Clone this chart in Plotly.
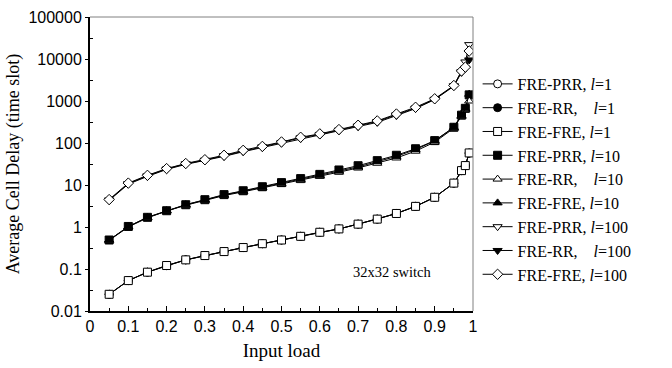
import plotly.graph_objects as go

load = [0.05, 0.1, 0.15, 0.2, 0.25, 0.3, 0.35, 0.4, 0.45, 0.5, 0.55, 0.6,
        0.65, 0.7, 0.75, 0.8, 0.85, 0.9, 0.95, 0.97, 0.98, 0.99]

prr_l1 = [0.025, 0.053, 0.084, 0.12, 0.165, 0.21, 0.26, 0.325, 0.40, 0.49, 0.60, 0.75,
          0.90, 1.17, 1.54, 2.1, 3.1, 5.1, 11.0, 22, 29, 57]
rr_l1 = [0.025, 0.053, 0.084, 0.121, 0.165, 0.209, 0.26, 0.324, 0.40, 0.49, 0.60, 0.75,
         0.90, 1.17, 1.54, 2.1, 3.1, 5.1, 11.1, 22, 29, 58]
fre_l1 = [0.025, 0.053, 0.084, 0.121, 0.165, 0.209, 0.26, 0.324, 0.40, 0.49, 0.60, 0.75,
          0.90, 1.17, 1.54, 2.1, 3.1, 5.1, 11.1, 22, 29, 58]

prr_l10 = [0.49, 1.03, 1.7, 2.44, 3.39, 4.47, 5.9, 7.3, 9.1, 11.4, 14.2, 17.9,
           22.8, 28.8, 38, 51, 73, 114, 237, 460, 670, 1400]
rr_l10 = [0.48, 1.0, 1.65, 2.4, 3.3, 4.3, 5.6, 6.9, 8.5, 10.5, 13.0, 16.2,
          20.2, 25.5, 33, 44, 64, 105, 225, 430, 620, 1000]
fre_l10 = [0.49, 1.02, 1.7, 2.45, 3.4, 4.4, 5.8, 7.1, 8.8, 11.0, 13.7, 17.0,
           21.5, 27, 36, 48, 70, 112, 235, 450, 650, 1450]

prr_l100 = [4.4, 10.8, 16.5, 24, 32, 39, 50, 65, 81, 103, 133, 160,
            203, 255, 325, 470, 680, 1100, 2300, 5000, 8500, 22000]
rr_l100 = [4.3, 10.5, 16, 23.5, 31, 38, 48, 62, 78, 99, 128, 155,
           195, 245, 310, 450, 660, 1080, 2250, 4800, 6000, 9500]
fre_l100 = [4.5, 11.1, 17, 24.6, 32.5, 40, 51, 67, 83, 106, 137, 165,
            209, 265, 336, 490, 710, 1130, 2340, 5200, 6400, 15500]

NB = "\u00a0"
series = [
    ("FRE-PRR, <i>l</i>=1", prr_l1, "circle", "white"),
    ("FRE-RR," + NB * 4 + "<i>l</i>=1", rr_l1, "circle", "black"),
    ("FRE-FRE, <i>l</i>=1", fre_l1, "square", "white"),
    ("FRE-PRR, <i>l</i>=10", prr_l10, "square", "black"),
    ("FRE-RR," + NB * 4 + "<i>l</i>=10", rr_l10, "triangle-up", "white"),
    ("FRE-FRE, <i>l</i>=10", fre_l10, "triangle-up", "black"),
    ("FRE-PRR, <i>l</i>=100", prr_l100, "triangle-down", "white"),
    ("FRE-RR," + NB * 4 + "<i>l</i>=100", rr_l100, "triangle-down", "black"),
    ("FRE-FRE, <i>l</i>=100", fre_l100, "diamond", "white"),
]

SANS = "Liberation Sans, Arial"
SERIF = "Liberation Serif, Times New Roman, serif"

fig = go.Figure()
for i, (name, ys, sym, fill) in enumerate(series):
    fig.add_trace(go.Scatter(
        x=load, y=ys, name=name, mode="lines+markers",
        line=dict(color="black", width=1),
        marker=dict(symbol=sym, size=8, color=fill, line=dict(color="black", width=1)),
    ))

fig.update_layout(
    width=672, height=368,
    margin=dict(l=90, r=199, t=17, b=57, autoexpand=False),
    paper_bgcolor="white", plot_bgcolor="white",
    showlegend=True,
    legend=dict(x=1.012, y=0.83, xanchor="left", yanchor="top",
                font=dict(family=SERIF, size=16, color="black"),
                itemwidth=30, bgcolor="rgba(0,0,0,0)"),
    xaxis=dict(range=[0, 1], dtick=0.1, tick0=0, showgrid=False, zeroline=False,
               showline=True, linecolor="black", linewidth=2,
               ticks="inside", ticklen=5, tickcolor="black", tickwidth=1,
               minor=dict(dtick=0.05, ticks="inside", ticklen=3, tickcolor="black"),
               tickfont=dict(family=SANS, size=16, color="black"),
               title=dict(text="Input load", standoff=9,
                          font=dict(family=SERIF, size=19, color="black"))),
    yaxis=dict(type="log", range=[-2, 5], dtick=1, showgrid=False, zeroline=False,
               showline=True, linecolor="black", linewidth=2,
               ticks="outside", ticklen=3, tickcolor="black", tickwidth=1,
               tickvals=[0.01, 0.1, 1, 10, 100, 1000, 10000, 100000],
               ticktext=["0.01", "0.1", "1", "10", "100", "1000", "10000", "100000"],
               minor=dict(tickvals=[0.0316, 0.316, 3.16, 31.6, 316, 3162, 31623],
                          ticks="inside", ticklen=3, tickcolor="black"),
               tickfont=dict(family=SANS, size=16, color="black"),
               title=dict(text="Average Cell Delay (time slot)", standoff=4,
                          font=dict(family=SERIF, size=18, color="black"))),
    shapes=[
        dict(type="line", xref="paper", yref="paper", x0=0, x1=1, y0=1, y1=1,
             line=dict(color="gray", width=1)),
        dict(type="line", xref="paper", yref="paper", x0=1, x1=1, y0=0, y1=1,
             line=dict(color="gray", width=1)),
    ],
    annotations=[
        dict(text="32x32 switch", xref="paper", yref="paper", x=0.789, y=0.133,
             xanchor="center", yanchor="middle",
             showarrow=False, font=dict(family=SERIF, size=14.5, color="black")),
    ],
)

fig.write_html("out.html")
